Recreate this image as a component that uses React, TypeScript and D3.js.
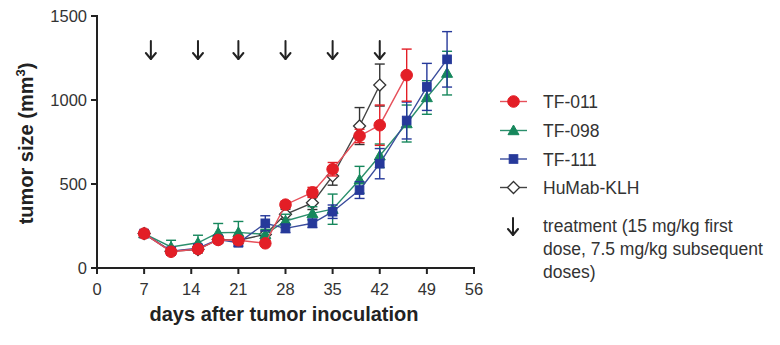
import React from "react";
import * as d3 from "d3";

const days = [7, 11, 15, 18, 21, 25, 28, 32, 35, 39, 42, 46, 49, 52];
const tf011 = [205, 97, 113, 167, 165, 147, 377, 450, 588, 786, 850, 1148];
const tf011Err = [15, 15, 15, 20, 20, 15, 20, 30, 40, 40, 120, 155];
const tf098 = [205, 125, 150, 210, 212, 200, 280, 325, 350, 525, 668, 860, 1015, 1160];
const tf098Err = [15, 40, 45, 55, 65, 30, 40, 40, 90, 80, 70, 110, 100, 130];
const tf111 = [205, 100, 118, 170, 150, 266, 236, 266, 335, 464, 621, 878, 1078, 1242];
const tf111Err = [15, 20, 20, 20, 20, 45, 25, 25, 40, 50, 90, 110, 140, 165];
const klh = [205, 100, 110, 170, 165, 200, 320, 388, 548, 845, 1089];
const klhErr = [15, 20, 20, 20, 20, 20, 30, 40, 55, 110, 125];
const treatmentDays = [8, 15, 21, 28, 35, 42];
const xTicks = [0, 7, 14, 21, 28, 35, 42, 49, 56];
const yTicks = [0, 500, 1000, 1500];
const seriesNames = ["TF-011", "TF-098", "TF-111", "HuMab-KLH"];
const treatmentLines = ["treatment (15 mg/kg first", "dose, 7.5 mg/kg subsequent", "doses)"];

const FONT = "'Liberation Sans', Arial, Helvetica, sans-serif";
const TXT = "#333";
const AX = "#222";

type S = { name: string; vals: number[]; errs: number[]; color: string; line: string; shape: string; fill: string };

const series: S[] = [
  { name: seriesNames[3], vals: klh, errs: klhErr, color: "#333", line: "#444", shape: "diamond", fill: "#fff" },
  { name: seriesNames[1], vals: tf098, errs: tf098Err, color: "#16875c", line: "#2b8f6c", shape: "triangle", fill: "#16875c" },
  { name: seriesNames[2], vals: tf111, errs: tf111Err, color: "#26399a", line: "#3a4c9c", shape: "square", fill: "#26399a" },
  { name: seriesNames[0], vals: tf011, errs: tf011Err, color: "#e31e26", line: "#e6505a", shape: "circle", fill: "#e31e26" },
];

function Marker({ shape, x, y, color, fill }: { shape: string; x: number; y: number; color: string; fill: string }) {
  if (shape === "circle") return <circle cx={x} cy={y} r={5.8} fill={fill} stroke={color} strokeWidth={1} />;
  if (shape === "square") return <rect x={x - 4.3} y={y - 4.3} width={8.6} height={8.6} fill={fill} stroke={color} strokeWidth={1} />;
  if (shape === "triangle")
    return <path d={`M${x},${y - 5.5} L${x + 5.5},${y + 4.2} L${x - 5.5},${y + 4.2} Z`} fill={fill} stroke={color} strokeWidth={1} />;
  return <path d={`M${x},${y - 6} L${x + 6},${y} L${x},${y + 6} L${x - 6},${y} Z`} fill={fill} stroke={color} strokeWidth={1.3} />;
}

function Arrow({ x, y0, y1 }: { x: number; y0: number; y1: number }) {
  return (
    <g stroke="#222" strokeWidth={2} fill="none" strokeLinecap="round" strokeLinejoin="round">
      <line x1={x} y1={y0} x2={x} y2={y1} />
      <path d={`M${x - 5},${y1 - 6} L${x},${y1} L${x + 5},${y1 - 6}`} />
    </g>
  );
}

export default function App() {
  const x = d3.scaleLinear().domain([0, 56]).range([97, 474]);
  const y = d3.scaleLinear().domain([0, 1500]).range([268, 16]);
  const legendY = [101.5, 130.5, 159, 187.5];
  const legendOrder = [0, 1, 2, 3];

  return (
    <svg width={780} height={345} style={{ position: "absolute", left: 0, top: 0, background: "#fff" }} fontFamily={FONT}>
      <rect width={780} height={345} fill="#fff" />
      {/* series */}
      {series.map((s) => {
        const pts = s.vals.map((v, i) => [x(days[i]), y(v)] as [number, number]);
        const path = d3.line()(pts) || "";
        return (
          <g key={s.name}>
            <path d={path} fill="none" stroke={s.line} strokeWidth={1.4} />
            {s.vals.map((v, i) => {
              const cx = x(days[i]);
              const top = y(v + s.errs[i]);
              const bot = y(v - s.errs[i]);
              return (
                <g key={i} stroke={s.color} strokeWidth={1.4}>
                  <line x1={cx} x2={cx} y1={top} y2={bot} />
                  <line x1={cx - 5} x2={cx + 5} y1={top} y2={top} />
                  <line x1={cx - 5} x2={cx + 5} y1={bot} y2={bot} />
                </g>
              );
            })}
            {s.vals.map((v, i) => (
              <Marker key={"m" + i} shape={s.shape} x={x(days[i])} y={y(v)} color={s.color} fill={s.fill} />
            ))}
          </g>
        );
      })}
      {/* axes */}
      <g stroke={AX} strokeWidth={2}>
        <line x1={x(0)} x2={x(0)} y1={y(1500) - 1} y2={y(0) + 1} />
        <line x1={x(0) - 1} x2={x(56) + 1} y1={y(0)} y2={y(0)} />
        {yTicks.map((t) => (
          <line key={t} x1={x(0) - 6} x2={x(0)} y1={y(t)} y2={y(t)} />
        ))}
        {xTicks.map((t) => (
          <line key={t} x1={x(t)} x2={x(t)} y1={y(0)} y2={y(0) + 6} />
        ))}
      </g>
      {yTicks.map((t) => (
        <text key={t} x={x(0) - 10} y={y(t) + 6} textAnchor="end" fontSize={16.5} fill={TXT}>
          {t}
        </text>
      ))}
      {xTicks.map((t) => (
        <text key={t} x={x(t)} y={295} textAnchor="middle" fontSize={16.5} fill={TXT}>
          {t}
        </text>
      ))}
      <text x={284} y={321} textAnchor="middle" fontSize={20} fontWeight="bold" fill="#222">
        days after tumor inoculation
      </text>
      <text transform="translate(33,143.5) rotate(-90)" textAnchor="middle" fontSize={20} fontWeight="bold" fill="#222">
        tumor size (mm<tspan fontSize={13} dy={-8}>3</tspan>
        <tspan dy={8}>)</tspan>
      </text>
      {/* treatment arrows */}
      {treatmentDays.map((d) => (
        <Arrow key={d} x={x(d)} y0={41} y1={59} />
      ))}
      {/* legend */}
      {legendOrder.map((si, k) => {
        const s = series.find((q) => q.name === seriesNames[si])!;
        const ly = legendY[k];
        return (
          <g key={s.name}>
            <line x1={500} x2={527} y1={ly} y2={ly} stroke={s.line} strokeWidth={1.4} />
            <Marker shape={s.shape} x={513.5} y={ly} color={s.color} fill={s.fill} />
            <text x={543} y={ly + 6.5} fontSize={17.5} fill={TXT}>
              {s.name}
            </text>
          </g>
        );
      })}
      <Arrow x={513} y0={218} y1={235} />
      {treatmentLines.map((l, i) => (
        <text key={i} x={543} y={232 + i * 23} fontSize={17.5} fill={TXT}>
          {l}
        </text>
      ))}
    </svg>
  );
}
